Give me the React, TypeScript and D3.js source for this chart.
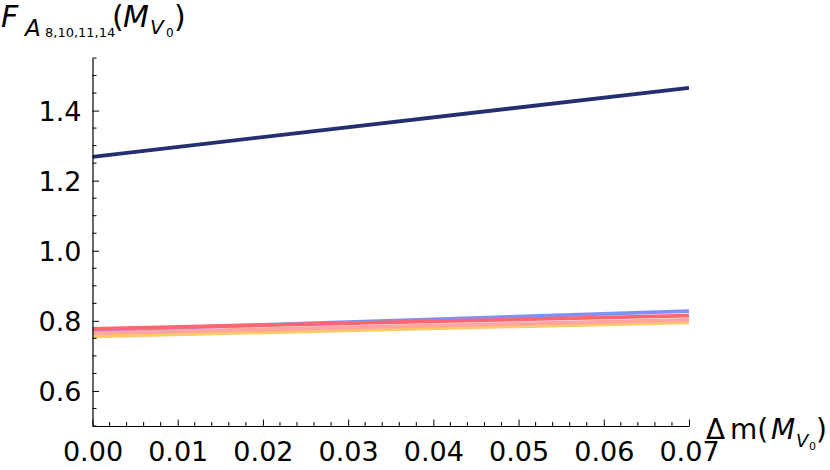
import React, {useEffect, useRef} from 'react';
import * as d3 from 'd3';

// x values (Δm in units of M_V0)
const xValues = [0, 0.07];

// series, value at start and end
const navyLine = [1.268, 1.465];
const blueLine = [0.773, 0.828];
const orangeLine = [0.756, 0.796];
const pinkLine = [0.765, 0.803];
const redLine = [0.777, 0.815];

const xTicks = [0, 0.01, 0.02, 0.03, 0.04, 0.05, 0.06, 0.07];
const yTicks = [0.6, 0.8, 1.0, 1.2, 1.4];

export default function App() {
    const svgRef = useRef<SVGSVGElement>(null);

    useEffect(() => {
        const svg = d3.select(svgRef.current);
        svg.selectAll('*').remove();
        const width = 830, height = 470;
        const margin = {top: 58, right: 141, bottom: 44, left: 92.5};
        const font = 'DejaVu Sans, sans-serif';

        const x = d3.scaleLinear().domain([0, 0.07]).range([margin.left, width - margin.right]);
        const y = d3.scaleLinear().domain([0.5, 1.55]).range([height - margin.bottom, margin.top]);

        const series = [
            {values: navyLine, color: '#232f6e'},
            {values: blueLine, color: '#8090f4'},
            {values: orangeLine, color: '#fdc868'},
            {values: pinkLine, color: '#ffa3a3'},
            {values: redLine, color: '#ff6670'},
        ];

        const line = d3.line<[number, number]>()
            .x(d => x(d[0]))
            .y(d => y(d[1]));

        svg.selectAll('.series')
            .data(series)
            .join('path')
            .attr('class', 'series')
            .attr('fill', 'none')
            .attr('stroke', d => d.color)
            .attr('stroke-width', 3.8)
            .attr('d', d => line(xValues.map((xv, i) => [xv, d.values[i]] as [number, number])));

        // minor ticks
        const xMinor = d3.range(0, 0.0701, 0.002).filter(v => !xTicks.some(t => Math.abs(t - v) < 1e-9));
        const yMinor = d3.range(0.5, 1.5501, 0.05).filter(v => !yTicks.some(t => Math.abs(t - v) < 1e-9));

        // axes
        const xAxis = svg.append('g')
            .attr('transform', `translate(0,${height - margin.bottom})`)
            .call(d3.axisBottom(x).tickValues(xTicks).tickSizeInner(-6.5).tickSizeOuter(0).tickPadding(16)
                .tickFormat(d3.format('.2f')));
        xAxis.append('g').selectAll('line').data(xMinor).join('line')
            .attr('x1', d => x(d)).attr('x2', d => x(d)).attr('y1', 0).attr('y2', -4)
            .attr('stroke', '#000');

        const yAxis = svg.append('g')
            .attr('transform', `translate(${margin.left},0)`)
            .call(d3.axisLeft(y).tickValues(yTicks).tickSizeInner(-6.5).tickSizeOuter(0).tickPadding(11)
                .tickFormat(d3.format('.1f')));
        yAxis.append('g').selectAll('line').data(yMinor).join('line')
            .attr('x1', 0).attr('x2', 4).attr('y1', d => y(d)).attr('y2', d => y(d))
            .attr('stroke', '#000');

        svg.selectAll('.domain').attr('stroke', '#000').attr('stroke-width', 1.2);
        svg.selectAll('.tick line').attr('stroke', '#000');
        svg.selectAll('.tick text')
            .attr('font-family', font)
            .attr('font-size', 27)
            .attr('fill', '#000');
        xAxis.selectAll('.tick text').attr('dy', '0.71em');
        yAxis.selectAll('.tick text').attr('dy', '0.36em');

        // y axis label: F_{A_{8,10,11,14}}(M_{V_0})
        const yl = svg.append('g').attr('font-family', font).attr('fill', '#000');
        yl.append('text').attr('x', 1).attr('y', 27).attr('font-size', 30).attr('font-style', 'italic').text('F');
        yl.append('text').attr('x', 25).attr('y', 36).attr('font-size', 23).attr('font-style', 'italic').text('A');
        yl.append('text').attr('x', 45).attr('y', 37).attr('font-size', 13).text('8,10,11,14');
        yl.append('text').attr('x', 112).attr('y', 27).attr('font-size', 30).text('(');
        yl.append('text').attr('x', 123).attr('y', 27).attr('font-size', 30).attr('font-style', 'italic').text('M');
        yl.append('text').attr('x', 150).attr('y', 34).attr('font-size', 20).attr('font-style', 'italic').text('V');
        yl.append('text').attr('x', 166).attr('y', 37).attr('font-size', 12).text('0');
        yl.append('text').attr('x', 174).attr('y', 27).attr('font-size', 30).text(')');

        // x axis label: Δm(M_{V_0})
        const xl = svg.append('g').attr('font-family', font).attr('fill', '#000');
        xl.append('text').attr('x', 706).attr('y', 439).attr('font-size', 28).text('Δ');
        xl.append('text').attr('x', 730).attr('y', 439).attr('font-size', 28).text('m(');
        xl.append('text').attr('x', 771).attr('y', 439).attr('font-size', 28).attr('font-style', 'italic').text('M');
        xl.append('text').attr('x', 796).attr('y', 447).attr('font-size', 18).attr('font-style', 'italic').text('V');
        xl.append('text').attr('x', 809).attr('y', 450).attr('font-size', 11).text('0');
        xl.append('text').attr('x', 816).attr('y', 439).attr('font-size', 28).text(')');
    }, []);

    return (
        <svg ref={svgRef} width={830} height={470}
             style={{position: 'absolute', left: 0, top: 0, background: '#fff'}}/>
    );
}
